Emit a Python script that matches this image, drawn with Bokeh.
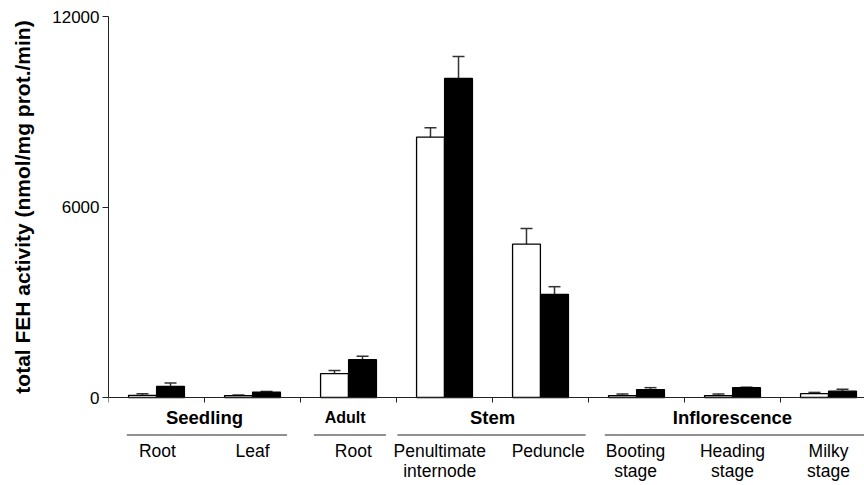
import math
from bokeh.plotting import figure
from bokeh.layouts import row
from bokeh.models import Range1d, FixedTicker, Whisker, ColumnDataSource, TeeHead, Span
from bokeh.core.properties import value
from bokeh.embed import file_html
from bokeh.resources import INLINE

# ---- data ----
categories = ["Root", "Leaf", "Root", "Penultimate\ninternode", "Peduncle",
              "Booting\nstage", "Heading\nstage", "Milky\nstage"]
white = [70, 60, 750, 8200, 4830, 60, 60, 120]
white_err = [50, 15, 100, 300, 490, 50, 50, 40]
black = [350, 170, 1190, 10050, 3250, 250, 310, 200]
black_err = [110, 20, 110, 690, 240, 60, 15, 60]
groups = ["Seedling", "Adult", "Stem", "Inflorescence"]
group_first = [0, 2, 3, 5]
group_last = [1, 2, 4, 7]
y_ticks = [0, 6000, 12000]
y_max = 12000
y_title = "total FEH activity (nmol/mg prot./min)"

FONT = "Liberation Sans"
n = len(categories)
bar_w = 0.29
off = 0.146

W, H = 864, 485
lab_w = 44                         # strip holding the vertical axis title
left, top = 108, 16                # plot frame origin in page pixels
frame_h = H - top
axis_px = 381                      # pixels from 0 to 12000
u = y_max / axis_px                # data units per pixel
cat_px = 96
x_end = (W - left) / cat_px
title_cx, title_cy = 22, 197       # page position of the axis title centre

# ---- vertical axis title strip ----
lab = figure(width=lab_w, height=H, output_backend="svg", toolbar_location=None,
             x_range=Range1d(0, lab_w), y_range=Range1d(0, H),
             min_border_left=0, min_border_right=0, min_border_top=0, min_border_bottom=0,
             x_axis_location=None, y_axis_location=None)
lab.outline_line_color = None
lab.xgrid.visible = False
lab.ygrid.visible = False
lab.text(x=[title_cx], y=[H - title_cy], text=[y_title], angle=math.pi / 2,
         text_align="center", text_baseline="middle", text_font=value(FONT),
         text_font_size="21px", text_font_style="bold", text_color="black")

# ---- main chart ----
p = figure(width=W - lab_w, height=H, output_backend="svg", toolbar_location=None,
           x_range=Range1d(0, x_end), y_range=Range1d(y_max - frame_h * u, y_max),
           min_border_left=left - lab_w, min_border_top=top, min_border_right=0,
           min_border_bottom=0, x_axis_location=None)
p.outline_line_color = None
p.xgrid.visible = False
p.ygrid.visible = False

xw = [i + 0.5 - off for i in range(n)]
xb = [i + 0.5 + off for i in range(n)]
src_w = ColumnDataSource(dict(x=xw, top=white, upper=[v + e for v, e in zip(white, white_err)]))
src_b = ColumnDataSource(dict(x=xb, top=black, upper=[v + e for v, e in zip(black, black_err)]))

p.vbar(x="x", top="top", bottom=0, width=bar_w, source=src_w,
       fill_color="white", line_color="black", line_width=1.3)
p.vbar(x="x", top="top", bottom=0, width=bar_w, source=src_b,
       fill_color="black", line_color="black", line_width=1.3)

for s in (src_w, src_b):
    p.add_layout(Whisker(source=s, base="x", lower="top", upper="upper", dimension="height",
                         lower_head=None,
                         upper_head=TeeHead(size=12, line_color="#333333", line_width=1.5),
                         line_color="#333333", line_width=1.5))

# y axis (line limited to 0..12000)
ya = p.yaxis[0]
ya.bounds = (0, y_max)
ya.ticker = FixedTicker(ticks=y_ticks)
ya.minor_tick_line_color = None
ya.major_tick_in = 0
ya.major_tick_out = 6
ya.axis_line_color = "#222222"
ya.major_tick_line_color = "#222222"
ya.major_label_text_font = FONT
ya.major_label_text_font_size = "17px"
ya.major_label_text_color = "black"
ya.major_label_standoff = 3

# category axis line at zero with boundary ticks
p.add_layout(Span(location=0, dimension="width", line_color="#222222", line_width=1))
bounds = list(range(n + 1))
p.segment(x0=bounds, y0=[0] * len(bounds), x1=bounds, y1=[-5 * u] * len(bounds),
          line_color="#222222", line_width=1)

# labels below the axis (offsets in pixels below the zero line)
y_group = -20 * u
y_line = -37.5 * u
y_cat1 = -53 * u
y_cat2 = -73 * u

group_shift = [0.0, -0.035, 0.0, 0.0]
line_pad_l = [0.19, 0.14, 0.01, 0.17]
line_pad_r = [0.14, 0.11, 0.03, 0.03]
gx, gy, gt, sx, sy, st = [], [], [], [], [], []
lx0, lx1 = [], []
for g, a, b, gs, pl, pr in zip(groups, group_first, group_last, group_shift, line_pad_l, line_pad_r):
    cx = (a + b + 1) / 2.0 + gs
    if a == b:
        sx.append(cx); sy.append(y_group); st.append(g)
    else:
        gx.append(cx); gy.append(y_group); gt.append(g)
    lx0.append(a + pl)
    lx1.append(b + 1 - pr)

p.text(x=gx, y=gy, text=gt, text_align="center", text_baseline="middle",
       text_font=value(FONT), text_font_size="18.5px", text_font_style="bold", text_color="black")
p.text(x=sx, y=sy, text=st, text_align="center", text_baseline="middle",
       text_font=value(FONT), text_font_size="16px", text_font_style="bold", text_color="black")
p.segment(x0=lx0, y0=[y_line] * len(lx0), x1=lx1, y1=[y_line] * len(lx1),
          line_color="#222222", line_width=1.2)

cat_shift = [0.01, 0.0, 0.05, -0.05, 0.08, -0.01, 0.0, 0.0]
cx_, cy_, ct_ = [], [], []
for i, (c, sh) in enumerate(zip(categories, cat_shift)):
    for j, t in enumerate(c.split("\n")):
        cx_.append(i + 0.5 + sh)
        cy_.append(y_cat1 if j == 0 else y_cat2)
        ct_.append(t)
p.text(x=cx_, y=cy_, text=ct_, text_align="center", text_baseline="middle",
       text_font=value(FONT), text_font_size="17.5px", text_color="black")

open("out.html", "w").write(file_html(row(lab, p), INLINE))
